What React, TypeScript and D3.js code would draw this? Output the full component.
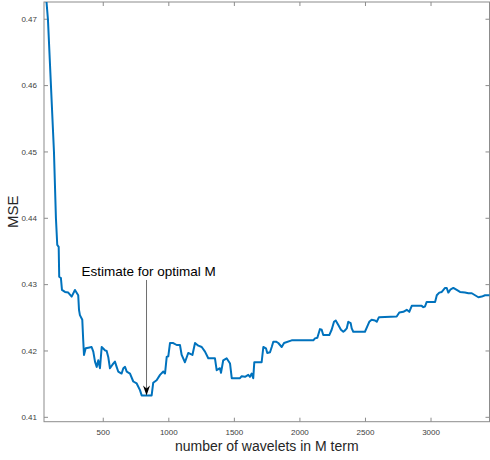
import React from 'react';
import * as d3 from 'd3';

// number of wavelets kept (M) and the resulting mean squared error
const M_VALUES = [
  50, 78, 101, 124, 139, 149, 160, 164, 177, 185, 208, 233, 259, 284, 309, 315, 322, 340, 347, 353,
  366, 386, 411, 424, 437, 450, 462, 475, 488, 513, 526, 538, 551, 576, 589, 602, 614, 640, 653, 666,
  679, 704, 729, 755, 780, 793, 869, 881, 907, 933, 958, 971, 984, 996, 1009, 1034, 1060, 1085, 1098,
  1123, 1148, 1180, 1200, 1225, 1251, 1276, 1301, 1352, 1365, 1390, 1398, 1415, 1441, 1467, 1480,
  1543, 1556, 1581, 1606, 1619, 1632, 1644, 1652, 1708, 1721, 1741, 1751, 1772, 1785, 1797, 1818,
  1835, 1861, 1879, 1937, 2102, 2115, 2133, 2153, 2166, 2178, 2224, 2242, 2260, 2273, 2293, 2313,
  2331, 2344, 2357, 2369, 2387, 2395, 2407, 2496, 2514, 2529, 2547, 2573, 2586, 2603, 2738, 2758,
  2789, 2815, 2834, 2853, 2929, 2941, 2954, 2967, 3031, 3044, 3063, 3082, 3107, 3120, 3132, 3150,
  3170, 3196, 3221, 3259, 3285, 3311, 3336, 3361, 3387, 3412, 3450,
];
const MSE_VALUES = [
  0.4767, 0.47, 0.46, 0.45, 0.44, 0.436, 0.4357, 0.4312, 0.431, 0.4292, 0.4289, 0.4288, 0.4282, 0.4292,
  0.4284, 0.4262, 0.4254, 0.4247, 0.4217, 0.4194, 0.4204, 0.4205, 0.4206, 0.4199, 0.4184, 0.4176,
  0.4186, 0.4174, 0.4206, 0.4201, 0.42, 0.4191, 0.4174, 0.4181, 0.4184, 0.4176, 0.4169, 0.4166,
  0.4174, 0.4176, 0.4169, 0.4166, 0.4154, 0.4151, 0.4141, 0.4133, 0.4133, 0.4152, 0.4156, 0.4164,
  0.4169, 0.4166, 0.4191, 0.4192, 0.4212, 0.4212, 0.4209, 0.4209, 0.4194, 0.4183, 0.4197, 0.4194,
  0.4212, 0.4208, 0.4206, 0.4199, 0.4189, 0.4189, 0.4171, 0.4174, 0.4167, 0.4186, 0.4189, 0.4181,
  0.4159, 0.4159, 0.4162, 0.4161, 0.4164, 0.4161, 0.4166, 0.4159, 0.4183, 0.4183, 0.4206, 0.4204,
  0.4197, 0.4198, 0.4206, 0.4214, 0.4214, 0.4212, 0.4206, 0.4212, 0.4216, 0.4216, 0.4219, 0.422,
  0.4233, 0.4232, 0.4224, 0.4224, 0.4232, 0.4244, 0.4246, 0.4239, 0.4232, 0.4229, 0.4231, 0.4234,
  0.4244, 0.4242, 0.4234, 0.4229, 0.4229, 0.4237, 0.4244, 0.4247, 0.4246, 0.4244, 0.4251, 0.4252,
  0.4258, 0.4259, 0.4262, 0.4259, 0.4268, 0.4268, 0.4266, 0.4267, 0.4274, 0.4274, 0.4284, 0.4288,
  0.4289, 0.4295, 0.4295, 0.4288, 0.4293, 0.4295, 0.4292, 0.4289, 0.4288, 0.4287, 0.4287, 0.4284,
  0.4281, 0.4282, 0.4284, 0.4284,
];

const X_TICKS = [500, 1000, 1500, 2000, 2500, 3000];
const Y_TICKS = [0.41, 0.42, 0.43, 0.44, 0.45, 0.46, 0.47];

// annotation: arrow to the chosen M
const OPTIMAL_M = 830;
const OPTIMAL_MSE = 0.4133;
const NOTE_TOP_MSE = 0.4307;
const NOTE_TEXT = 'Estimate for optimal M';

const WIDTH = 490;
const HEIGHT = 460;
const left = 44, right = 489.5, top = 2, bottom = 421.7;
const AXIS = '#8c8c8c';
const LABEL = '#404040';
const FONT = '"Liberation Sans", Arial, sans-serif';

export default function App() {
  const x = d3.scaleLinear().domain([48, 3446]).range([left, right]);
  const y = d3.scaleLinear().domain([0.40934, 0.4726]).range([bottom, top]);

  const points = M_VALUES.map((m, i) => [m, MSE_VALUES[i]] as [number, number]);
  const line = d3.line<[number, number]>()
    .x(d => x(d[0]))
    .y(d => y(d[1]));

  const ax = x(OPTIMAL_M);
  const tipY = y(OPTIMAL_MSE);
  const tailY = y(NOTE_TOP_MSE);

  return (
    <svg width={WIDTH} height={HEIGHT} style={{ position: 'absolute', left: 0, top: 0, background: '#fff' }}>
      <defs>
        <clipPath id="plotclip">
          <rect x={left} y={top} width={right - left} height={bottom - top} />
        </clipPath>
      </defs>

      {/* box */}
      <rect x={left} y={top} width={right - left} height={bottom - top} fill="none" stroke={AXIS} strokeWidth={1} />

      {X_TICKS.map(t => (
        <g key={'x' + t}>
          <line x1={x(t)} x2={x(t)} y1={bottom} y2={bottom - 4} stroke={AXIS} />
          <line x1={x(t)} x2={x(t)} y1={top} y2={top + 4} stroke={AXIS} />
          <text x={x(t)} y={bottom + 13} textAnchor="middle" fontSize={8} fill={LABEL} fontFamily={FONT}>
            {t}
          </text>
        </g>
      ))}

      {Y_TICKS.map(t => (
        <g key={'y' + t}>
          <line x1={left} x2={left + 4} y1={y(t)} y2={y(t)} stroke={AXIS} />
          <line x1={right} x2={right - 4} y1={y(t)} y2={y(t)} stroke={AXIS} />
          <text x={left - 7} y={y(t)} dy="0.35em" textAnchor="end" fontSize={8} fill={LABEL} fontFamily={FONT}>
            {d3.format('.2f')(t)}
          </text>
        </g>
      ))}

      <path
        d={line(points) || ''}
        fill="none"
        stroke="#0072BD"
        strokeWidth={2}
        strokeLinejoin="round"
        clipPath="url(#plotclip)"
      />

      {/* annotation */}
      <line x1={ax} x2={ax} y1={tailY} y2={tipY - 6} stroke="#6e6e6e" strokeWidth={1} />
      <path d={`M${ax},${tipY} L${ax - 3.5},${tipY - 10} L${ax},${tipY - 7} L${ax + 3.5},${tipY - 10} Z`} fill="#000" />
      <text x={ax + 2} y={tailY - 4} textAnchor="middle" fontSize={13.5} fill="#000" fontFamily={FONT}>
        {NOTE_TEXT}
      </text>

      <text x={(left + right) / 2} y={451} textAnchor="middle" fontSize={14} fill="#262626" fontFamily={FONT}>
        number of wavelets in M term
      </text>
      <text
        transform={`translate(18, ${(top + bottom) / 2}) rotate(-90)`}
        textAnchor="middle"
        fontSize={15}
        fill="#262626"
        fontFamily={FONT}
      >
        MSE
      </text>
    </svg>
  );
}
